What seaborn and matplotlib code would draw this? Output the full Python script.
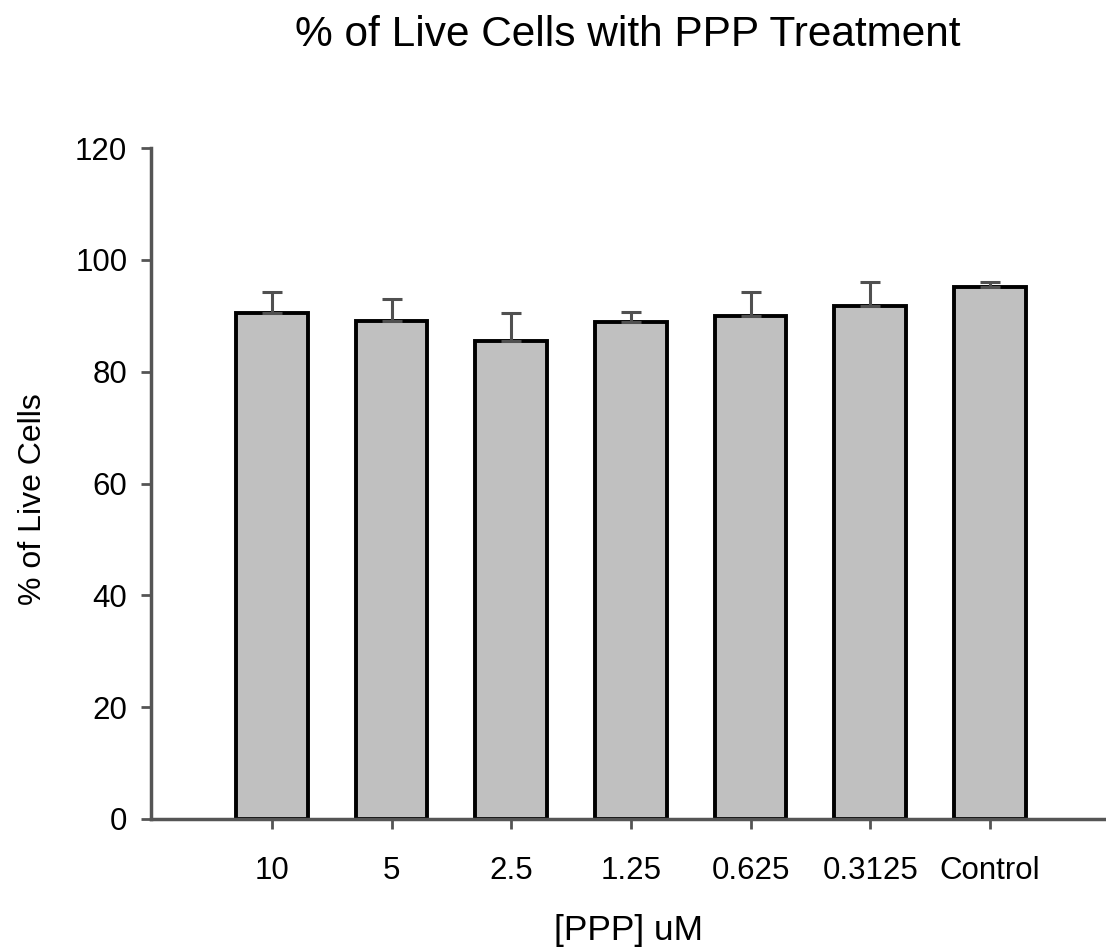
import numpy as np
import pandas as pd
import seaborn as sns
import matplotlib.pyplot as plt

# values
conc = ["10", "5", "2.5", "1.25", "0.625", "0.3125", "Control"]
live = [90.5, 89.0, 85.5, 88.8, 90.0, 91.7, 95.2]
err = [3.7, 4.0, 5.0, 1.9, 4.2, 4.4, 0.9]

df = pd.DataFrame({"conc": conc, "live": live})

sns.set_style("white")
plt.rcParams['font.family'] = ['Liberation Sans', 'DejaVu Sans']
plt.rcParams['text.color'] = 'black'
plt.rcParams['axes.labelcolor'] = 'black'
plt.rcParams['xtick.color'] = 'black'
plt.rcParams['ytick.color'] = 'black'

fig = plt.figure(figsize=(11.06, 9.5), dpi=100)
ax = fig.add_axes([0.1365, 0.1379, 0.8635, 0.7063])

sns.barplot(x="conc", y="live", data=df, order=conc, color="#c0c0c0",
            edgecolor="black", linewidth=2.8, width=0.6, errorbar=None,
            saturation=1, ax=ax)
ax.errorbar(np.arange(len(conc)), live, yerr=[np.zeros(len(err)), err],
            fmt="none", ecolor="#505050", elinewidth=2.2, capsize=7,
            capthick=2.2, zorder=1)

ax.set_ylim(0, 120)
ax.set_xlim(-1.01, 6.97)
ax.set_yticks(range(0, 121, 20))

for side in ["top", "right"]:
    ax.spines[side].set_visible(False)
for side in ["left", "bottom"]:
    ax.spines[side].set_color("#555555")
    ax.spines[side].set_linewidth(2.5)

ax.tick_params(axis="both", direction="out", length=7, width=2,
               color="#555555", labelcolor="black", labelsize=22.5,
               bottom=True, left=True, pad=10)
ax.tick_params(axis="x", pad=20)

ax.set_xlabel("[PPP] uM", fontsize=25.5, labelpad=20)
ax.set_ylabel("% of Live Cells", fontsize=23, va="center")
ax.yaxis.set_label_coords(-0.124, 0.477)
fig.text(0.568, 0.963, "% of Live Cells with PPP Treatment", fontsize=30.5,
         ha="center", va="center")

fig.savefig("out.png", dpi=100)
